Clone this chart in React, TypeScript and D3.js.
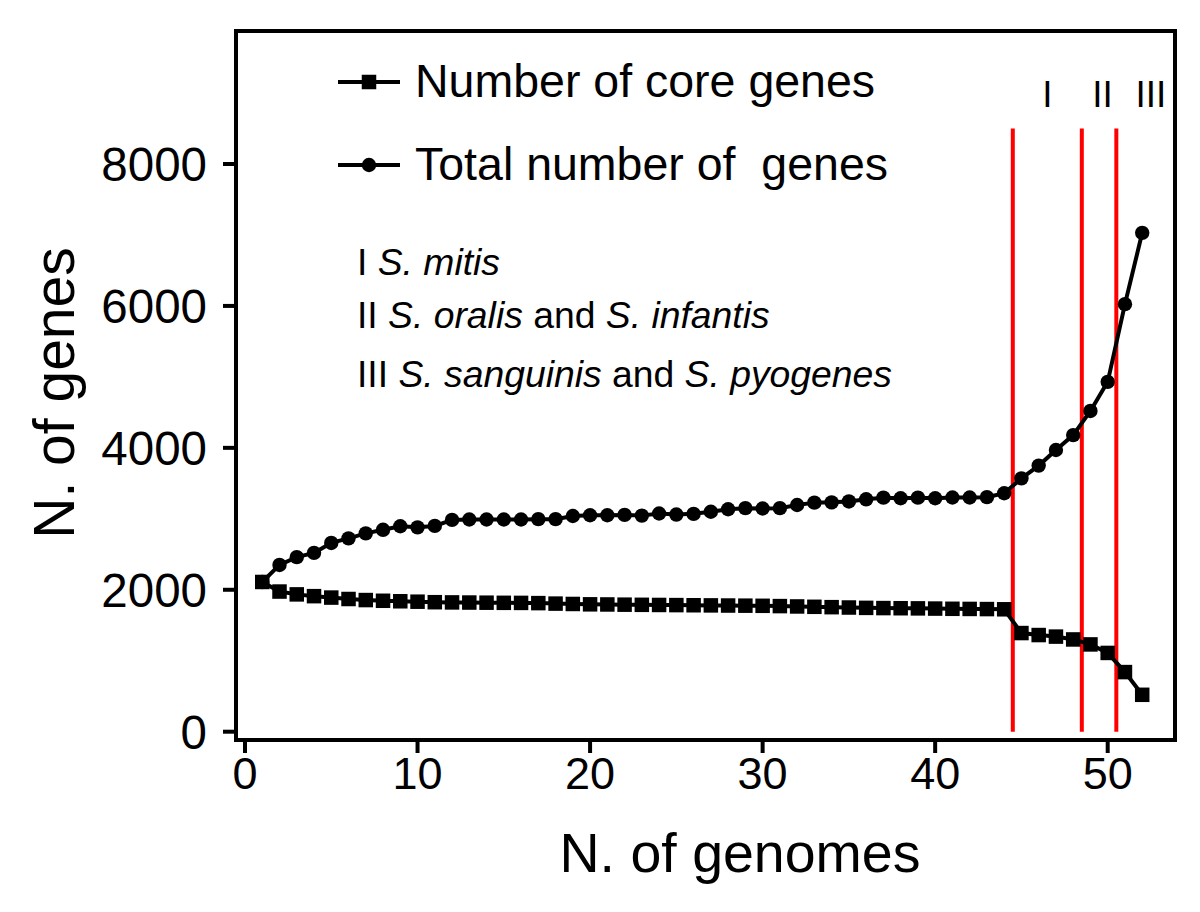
import React from "react";
import * as d3 from "d3";

const genomes: number[] = Array.from({ length: 52 }, (_, i) => i + 1);

const coreGenes: number[] = [
  2110, 1975, 1935, 1910, 1890, 1870, 1855, 1845, 1838, 1832,
  1825, 1822, 1820, 1818, 1816, 1815, 1812, 1805, 1800, 1795,
  1793, 1790, 1788, 1786, 1784, 1782, 1780, 1778, 1776, 1774,
  1770, 1765, 1760, 1755, 1750, 1745, 1742, 1740, 1738, 1735,
  1732, 1730, 1728, 1725, 1390, 1362, 1340, 1300, 1230, 1110,
  840, 520,
];

const totalGenes: number[] = [
  2110, 2350, 2460, 2520, 2660, 2725, 2795, 2845, 2895, 2880,
  2900, 2985, 2990, 2990, 2990, 2990, 2995, 2995, 3040, 3050,
  3050, 3055, 3045, 3075, 3060, 3070, 3100, 3135, 3150, 3145,
  3150, 3195, 3228, 3232, 3245, 3275, 3298, 3290, 3298, 3290,
  3300, 3300, 3305, 3360, 3570, 3750, 3970, 4180, 4520, 4930,
  6025, 7030,
];

const xTicks: number[] = [0, 10, 20, 30, 40, 50];
const yTicks: number[] = [0, 2000, 4000, 6000, 8000];
const cladeLines: number[] = [44.5, 48.5, 50.5];
const cladeLineTop = 8500;
const cladeLabels: { label: string; x: number }[] = [
  { label: "I", x: 46.5 },
  { label: "II", x: 49.7 },
  { label: "III", x: 52.5 },
];

const seriesLabels = ["Number of core genes", "Total number of  genes"];

const FONT = "'Liberation Sans', Arial, Helvetica, sans-serif";

export default function App() {
  const x = d3.scaleLinear().domain([0, 50]).range([245, 1107.7]);
  const y = d3.scaleLinear().domain([0, 8000]).range([731.7, 164]);

  const frame = { left: 236, right: 1175, top: 31, bottom: 740 };

  const line = d3
    .line<number>()
    .x((_, i) => x(genomes[i]))
    .y((d) => y(d));

  const sq = 14.5;
  const r = 7.2;
  const lw = 4;

  return (
    <svg
      width={1200}
      height={912}
      style={{ position: "absolute", left: 0, top: 0, background: "#fff" }}
      fontFamily={FONT}
    >
      <rect x={0} y={0} width={1200} height={912} fill="#fff" />

      {/* clade separator lines */}
      {cladeLines.map((v, i) => (
        <line
          key={"cl" + i}
          x1={x(v)}
          x2={x(v)}
          y1={y(0)}
          y2={y(cladeLineTop)}
          stroke="#ff0000"
          strokeWidth={4}
        />
      ))}
      {cladeLabels.map((c, i) => (
        <text
          key={"clab" + i}
          x={x(c.x)}
          y={107}
          fontSize={37}
          textAnchor="middle"
          fill="#000"
        >
          {c.label}
        </text>
      ))}

      {/* series lines */}
      <path d={line(coreGenes) || ""} fill="none" stroke="#000" strokeWidth={lw} />
      <path d={line(totalGenes) || ""} fill="none" stroke="#000" strokeWidth={lw} />
      {coreGenes.map((v, i) => (
        <rect
          key={"c" + i}
          x={x(genomes[i]) - sq / 2}
          y={y(v) - sq / 2}
          width={sq}
          height={sq}
          fill="#000"
        />
      ))}
      {totalGenes.map((v, i) => (
        <circle key={"t" + i} cx={x(genomes[i])} cy={y(v)} r={r} fill="#000" />
      ))}

      {/* frame */}
      <rect
        x={frame.left}
        y={frame.top}
        width={frame.right - frame.left}
        height={frame.bottom - frame.top}
        fill="none"
        stroke="#000"
        strokeWidth={4}
      />

      {/* y axis */}
      {yTicks.map((t) => (
        <g key={"yt" + t}>
          <line x1={frame.left - 13} x2={frame.left} y1={y(t)} y2={y(t)} stroke="#000" strokeWidth={4} />
          <text x={207} y={y(t)} dy="0.36em" fontSize={47.5} textAnchor="end" fill="#000">
            {t}
          </text>
        </g>
      ))}

      {/* x axis */}
      {xTicks.map((t) => (
        <g key={"xt" + t}>
          <line x1={x(t)} x2={x(t)} y1={frame.bottom} y2={frame.bottom + 13} stroke="#000" strokeWidth={4} />
          <text x={x(t)} y={789} fontSize={45} textAnchor="middle" fill="#000">
            {t}
          </text>
        </g>
      ))}

      {/* axis titles */}
      <text x={740} y={872} fontSize={55.5} textAnchor="middle" fill="#000">
        N. of genomes
      </text>
      <text
        transform="translate(74,393) rotate(-90)"
        fontSize={57}
        textAnchor="middle"
        fill="#000"
      >
        N. of genes
      </text>

      {/* legend */}
      {seriesLabels.map((lab, i) => {
        const ly = i === 0 ? 82 : 165;
        return (
          <g key={"lg" + i}>
            <line x1={338} x2={400} y1={ly} y2={ly} stroke="#000" strokeWidth={lw} />
            {i === 0 ? (
              <rect x={369 - sq / 2} y={ly - sq / 2} width={sq} height={sq} fill="#000" />
            ) : (
              <circle cx={369} cy={ly} r={r} fill="#000" />
            )}
            <text x={415} y={ly + 15} fontSize={46.5} fill="#000" style={{ whiteSpace: "pre" }}>
              {lab}
            </text>
          </g>
        );
      })}

      {/* clade annotations */}
      <text x={357} y={275} fontSize={37.3} fill="#000">
        I <tspan fontStyle="italic">S. mitis</tspan>
      </text>
      <text x={357} y={328} fontSize={37.3} fill="#000">
        II <tspan fontStyle="italic">S. oralis</tspan> and{" "}
        <tspan fontStyle="italic">S. infantis</tspan>
      </text>
      <text x={357} y={387} fontSize={37.3} fill="#000">
        III <tspan fontStyle="italic">S. sanguinis</tspan> and{" "}
        <tspan fontStyle="italic">S. pyogenes</tspan>
      </text>
    </svg>
  );
}
